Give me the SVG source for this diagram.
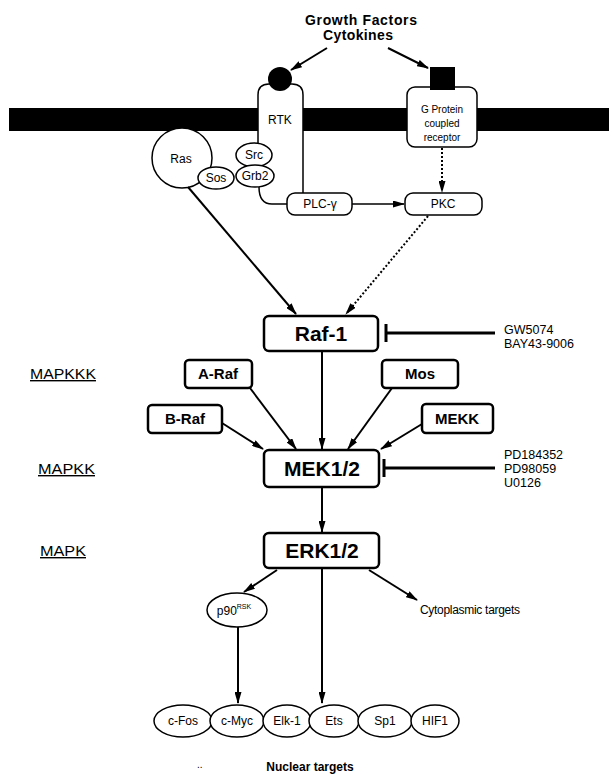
<svg xmlns="http://www.w3.org/2000/svg" width="612" height="775" viewBox="0 0 612 775">
<style>
text{font-family:"Liberation Sans",Arial,sans-serif;fill:#000}
.box{fill:#fff;stroke:#000;stroke-width:2.5}
.sbox{fill:#fff;stroke:#000;stroke-width:1.5}
.conn{stroke:#000;stroke-width:2;fill:none}
.thin{stroke:#000;stroke-width:1.5;fill:none}
.inh{stroke:#000;stroke-width:3;fill:none}
.big{font-size:21px;font-weight:bold;text-anchor:middle}
.mid{font-size:15px;font-weight:bold;text-anchor:middle}
.sm{font-size:12px;text-anchor:middle}
.lab{font-size:14px;text-decoration:underline}
.drug{font-size:12.5px}
</style>
<defs>
<marker id="ah" markerUnits="userSpaceOnUse" markerWidth="12" markerHeight="7" refX="11" refY="3.5" orient="auto">
<path d="M0,0 L12,3.5 L0,7 z" fill="#000"/>
</marker>
</defs>
<rect x="0" y="0" width="612" height="775" fill="#fff"/>

<g id="membrane">
<rect x="9" y="108" width="600" height="23" fill="#000"/>
</g>

<g id="ligand-text">
<text x="361" y="25" font-size="14" font-weight="bold" text-anchor="middle" textLength="112" lengthAdjust="spacing">Growth Factors</text>
<text x="358" y="40" font-size="14" font-weight="bold" text-anchor="middle" textLength="70" lengthAdjust="spacing">Cytokines</text>
</g>

<g id="rtk">
<rect x="258" y="92" width="45" height="40" fill="#fff"/>
<path class="thin" d="M258,143 L258,95 Q258,84 269,84 L292,84 Q303,84 303,95 L303,193"/>
<circle cx="280" cy="79" r="12" fill="#000"/>
<text x="280" y="124" font-size="12" text-anchor="middle">RTK</text>
</g>

<g id="gpcr">
<rect class="sbox" x="407" y="87" width="70" height="60" rx="8"/>
<rect x="430" y="67" width="25" height="23" fill="#000"/>
<text x="442" y="113" font-size="10" text-anchor="middle">G Protein</text>
<text x="442" y="127" font-size="10" text-anchor="middle">coupled</text>
<text x="442" y="141" font-size="10" text-anchor="middle">receptor</text>
</g>

<g id="ras">
<circle class="sbox" cx="182" cy="158" r="30"/>
<text x="181" y="163" class="sm" font-size="13">Ras</text>
</g>
<g id="sos">
<ellipse class="sbox" cx="216" cy="178" rx="18" ry="11"/>
<text x="216" y="182" class="sm">Sos</text>
</g>
<g id="src">
<ellipse class="sbox" cx="254" cy="155" rx="18" ry="12"/>
<text x="254" y="159" class="sm">Src</text>
</g>
<g id="grb2">
<ellipse class="sbox" cx="255" cy="176" rx="19" ry="11"/>
<text x="255" y="180" class="sm">Grb2</text>
</g>

<g id="plc">
<rect class="sbox" x="287" y="193" width="65" height="22" rx="8"/>
<text x="320" y="208" class="sm">PLC-γ</text>
</g>
<g id="pkc">
<rect class="sbox" x="405" y="193" width="77" height="22" rx="8"/>
<text x="443" y="208" class="sm">PKC</text>
</g>

<g id="raf1">
<rect class="box" x="264" y="316" width="114" height="35" rx="5"/>
<text x="321" y="341" class="big" font-size="20">Raf-1</text>
</g>
<g id="araf">
<rect class="box" x="185" y="360" width="67" height="28" rx="4"/>
<text x="218" y="379" class="mid">A-Raf</text>
</g>
<g id="mos">
<rect class="box" x="382" y="360" width="76" height="28" rx="4"/>
<text x="420" y="379" class="mid">Mos</text>
</g>
<g id="braf">
<rect class="box" x="148" y="405" width="74" height="28" rx="4"/>
<text x="185" y="424" class="mid">B-Raf</text>
</g>
<g id="mekk">
<rect class="box" x="422" y="404" width="71" height="29" rx="4"/>
<text x="457" y="424" class="mid">MEKK</text>
</g>
<g id="mek">
<rect class="box" x="264" y="450" width="115" height="37" rx="5"/>
<text x="322" y="476" class="big">MEK1/2</text>
</g>
<g id="erk">
<rect class="box" x="264" y="533" width="115" height="35" rx="5"/>
<text x="322" y="558" class="big" font-size="22">ERK1/2</text>
</g>

<g id="p90">
<ellipse class="sbox" cx="237" cy="610" rx="30" ry="17"/>
<text x="234" y="615" class="sm">p90<tspan font-size="7" dy="-6">RSK</tspan></text>
</g>

<g id="levels">
<text x="30" y="379" class="lab" textLength="66" lengthAdjust="spacingAndGlyphs">MAPKKK</text>
<text x="38" y="474" class="lab" textLength="57" lengthAdjust="spacingAndGlyphs">MAPKK</text>
<text x="40" y="556" class="lab" textLength="46" lengthAdjust="spacingAndGlyphs">MAPK</text>
</g>

<g id="drugs">
<text x="504" y="334" class="drug">GW5074</text>
<text x="504" y="348" class="drug">BAY43-9006</text>
<text x="504" y="459" class="drug">PD184352</text>
<text x="504" y="473" class="drug">PD98059</text>
<text x="504" y="487" class="drug">U0126</text>
</g>

<g id="cyto">
<text x="420" y="614" font-size="12" textLength="100" lengthAdjust="spacing">Cytoplasmic targets</text>
</g>

<g id="nuclear">
<ellipse class="sbox" cx="183" cy="721" rx="29" ry="16"/>
<text x="183" y="725" class="sm">c-Fos</text>
<ellipse class="sbox" cx="237" cy="721" rx="27" ry="16"/>
<text x="237" y="725" class="sm">c-Myc</text>
<ellipse class="sbox" cx="287" cy="721" rx="24" ry="16"/>
<text x="287" y="725" class="sm">Elk-1</text>
<ellipse class="sbox" cx="334" cy="721" rx="25" ry="16"/>
<text x="334" y="725" class="sm">Ets</text>
<ellipse class="sbox" cx="385" cy="721" rx="27" ry="16"/>
<text x="385" y="725" class="sm">Sp1</text>
<ellipse class="sbox" cx="435" cy="721" rx="24" ry="16"/>
<text x="435" y="725" class="sm">HIF1</text>
<text x="310" y="771" font-size="12" font-weight="bold" text-anchor="middle">Nuclear targets</text>
<text x="197" y="768" font-size="10" fill="#555">..</text>
</g>

<g id="connectors">
<line class="conn" x1="327" y1="48" x2="291" y2="70" marker-end="url(#ah)"/>
<line class="conn" x1="388" y1="48" x2="428" y2="68" marker-end="url(#ah)"/>
<line class="conn" x1="442" y1="148" x2="442" y2="192" stroke-dasharray="2,2" marker-end="url(#ah)"/>
<path class="thin" d="M259,187 Q259,204 272,204 L287,204"/>
<line class="thin" x1="352" y1="204" x2="404" y2="204" marker-end="url(#ah)"/>
<line class="conn" x1="188" y1="187" x2="296" y2="314" marker-end="url(#ah)"/>
<line class="conn" x1="428" y1="216" x2="346" y2="314" stroke-dasharray="2,2" marker-end="url(#ah)"/>
<line class="conn" x1="250" y1="388" x2="296" y2="449" marker-end="url(#ah)"/>
<line class="conn" x1="322" y1="351" x2="322" y2="449" marker-end="url(#ah)"/>
<line class="conn" x1="392" y1="388" x2="348" y2="449" marker-end="url(#ah)"/>
<line class="conn" x1="222" y1="423" x2="263" y2="449" marker-end="url(#ah)"/>
<line class="conn" x1="422" y1="424" x2="381" y2="449" marker-end="url(#ah)"/>
<line class="conn" x1="322" y1="487" x2="322" y2="532" marker-end="url(#ah)"/>
<line class="conn" x1="277" y1="570" x2="244" y2="592" marker-end="url(#ah)"/>
<line class="conn" x1="369" y1="570" x2="417" y2="600" marker-end="url(#ah)"/>
<line class="conn" x1="238" y1="627" x2="238" y2="703" marker-end="url(#ah)"/>
<line class="conn" x1="322" y1="568" x2="322" y2="703" marker-end="url(#ah)"/>
<line class="inh" x1="386" y1="333" x2="495" y2="333"/>
<line class="inh" x1="386" y1="324" x2="386" y2="342"/>
<line class="inh" x1="384" y1="468" x2="495" y2="468"/>
<line class="inh" x1="384" y1="459" x2="384" y2="477"/>
</g>
</svg>
